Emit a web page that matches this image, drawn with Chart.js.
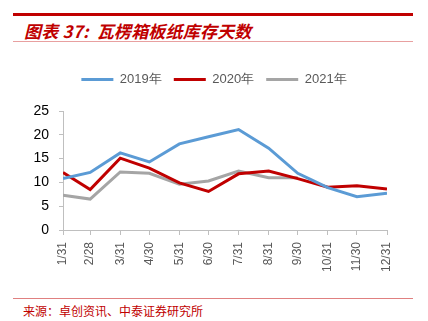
<!DOCTYPE html>
<html>
<head>
<meta charset="utf-8">
<script src="https://cdn.jsdelivr.net/npm/chart.js@4"></script>
<style>
  body { margin: 0; width: 428px; height: 321px; background: #fff; position: relative; overflow: hidden; }
  .top-rule { position: absolute; left: 13px; top: 13px; width: 400px; height: 3px; background: #C00000; }
  .title { position: absolute; left: 24px; top: 18px; font-family: "Noto Sans CJK SC", sans-serif; font-size: 17px; font-weight: bold; font-style: italic; color: #C00000; letter-spacing: 0.2px; white-space: pre; }
  .sub-rule { position: absolute; left: 13px; top: 41px; width: 400px; height: 1px; background: #E8A0A0; }
  .foot-rule { position: absolute; left: 13px; top: 298px; width: 400px; height: 1px; background: #E08080; }
  .source { position: absolute; left: 23px; top: 302px; font-family: "Noto Sans CJK SC", sans-serif; font-size: 12px; color: #C00000; }
  #wrap { position: absolute; left: 0; top: 55px; width: 428px; height: 230px; }
</style>
</head>
<body>
<div class="top-rule"></div>
<div class="title">图表 37:  瓦楞箱板纸库存天数</div>
<div class="sub-rule"></div>
<div id="wrap"><canvas id="chart"></canvas></div>
<div class="foot-rule"></div>
<div class="source">来源：卓创资讯、中泰证券研究所</div>
<script>
// month-end labels and their day of year
const monthLabels = ["1/31", "2/28", "3/31", "4/30", "5/31", "6/30", "7/31", "8/31", "9/30", "10/31", "11/30", "12/31"];
const dayOfYear = [31, 59, 90, 120, 151, 181, 212, 243, 273, 304, 334, 365];

const days2019 = [10.8, 12.1, 16.2, 14.3, 18.1, 19.6, 21.1, 17.2, 11.9, 8.9, 7.0, 7.7];
const days2020 = [12.1, 8.5, 15.1, 13.0, 9.9, 8.1, 11.8, 12.4, 10.8, 9.0, 9.3, 8.6];
const days2021 = [7.3, 6.5, 12.2, 11.9, 9.6, 10.3, 12.4, 11.0, 11.0];

const toPoints = (vals) => vals.map((v, i) => ({ x: dayOfYear[i], y: v }));

// extra room under the legend
const legendSpace = {
  id: "legendSpace",
  beforeInit(chart) {
    const fit = chart.legend.fit;
    chart.legend.fit = function () {
      fit.call(this);
      this.height += 15;
    };
  },
};

const series = (label, data, color) => ({
  label: label,
  data: toPoints(data),
  borderColor: color,
  backgroundColor: color,
  borderWidth: 3,
  pointRadius: 0,
  tension: 0,
});

new Chart(document.getElementById("chart"), {
  type: "line",
  data: {
    datasets: [
      series("2019年", days2019, "#5B9BD5"),
      series("2020年", days2020, "#C00000"),
      series("2021年", days2021, "#A5A5A5"),
    ],
  },
  options: {
    responsive: true,
    maintainAspectRatio: false,
    animation: false,
    layout: { padding: { left: 3, right: 3, top: 6, bottom: 0 } },
    plugins: {
      tooltip: { enabled: false },
      legend: {
        display: true,
        labels: {
          usePointStyle: true,
          pointStyle: "line",
          pointStyleWidth: 32,
          boxHeight: 3,
          color: "#595959",
          font: { family: "Liberation Sans", size: 13 },
          padding: 12,
        },
      },
    },
    scales: {
      x: {
        type: "linear",
        min: dayOfYear[0],
        max: dayOfYear[dayOfYear.length - 1],
        afterBuildTicks: (scale) => {
          scale.ticks = dayOfYear.map((d) => ({ value: d }));
        },
        afterFit: (scale) => { scale.height = 55; },
        ticks: {
          autoSkip: false,
          minRotation: 90,
          maxRotation: 90,
          padding: 7,
          color: "#595959",
          font: { family: "Liberation Sans", size: 12 },
          callback: (v) => monthLabels[dayOfYear.indexOf(v)],
        },
        grid: { display: true, drawOnChartArea: false, drawTicks: true, tickLength: 5, color: "#BFBFBF" },
        border: { color: "#BFBFBF", width: 1 },
      },
      y: {
        min: 0,
        max: 25,
        afterFit: (scale) => { scale.width = 60; },
        ticks: {
          stepSize: 5,
          color: "#000",
          font: { family: "Liberation Sans", size: 14 },
          padding: 10,
        },
        grid: { display: true, drawOnChartArea: false, drawTicks: true, tickLength: 4, color: "#BFBFBF" },
        border: { color: "#BFBFBF", width: 1 },
      },
      // blank right margin so the legend stays centred on the page
      spacer: {
        position: "right",
        min: 0,
        max: 25,
        afterFit: (scale) => { scale.width = 38; },
        ticks: { display: false },
        grid: { display: false },
        border: { display: false },
      },
    },
  },
  plugins: [legendSpace],
});
</script>
</body>
</html>
